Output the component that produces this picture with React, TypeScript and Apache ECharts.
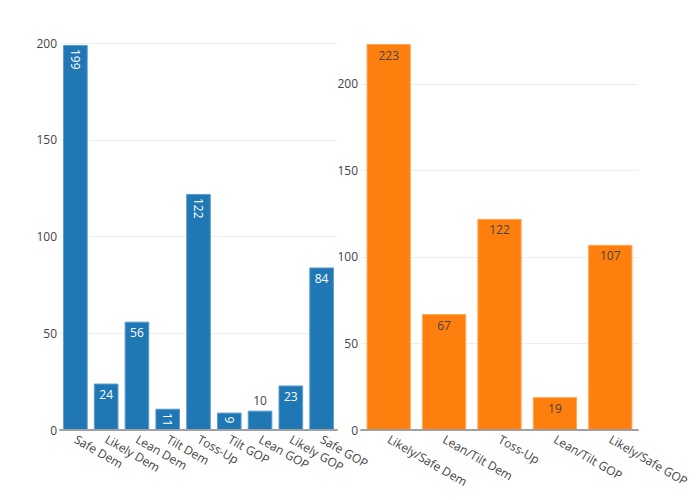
import React, { useEffect, useRef } from "react";
import * as echarts from "echarts";

const leftCategories = ["Safe Dem", "Likely Dem", "Lean Dem", "Tilt Dem", "Toss-Up", "Tilt GOP", "Lean GOP", "Likely GOP", "Safe GOP"];
const leftValues = [199, 24, 56, 11, 122, 9, 10, 23, 84];
const rightCategories = ["Likely/Safe Dem", "Lean/Tilt Dem", "Toss-Up", "Lean/Tilt GOP", "Likely/Safe GOP"];
const rightValues = [223, 67, 122, 19, 107];
const leftTicks = [0, 50, 100, 150, 200];
const rightTicks = [0, 50, 100, 150, 200];

// label placement per left bar (plotly auto: rotated when short/narrow, outside when tiny)
const leftLabelMode = ["rot", "in", "in", "rot", "rot", "rot", "out", "in", "in"];

const FONT = "Open Sans";
const TXT = "#444";

export default function App() {
  const ref = useRef<HTMLDivElement>(null);
  useEffect(() => {
    document.body.style.margin = "0";
    const chart = echarts.init(ref.current!, null, { renderer: "svg" });
    const leftData = leftValues.map((v, i) => {
      const mode = leftLabelMode[i];
      let label: any;
      if (mode === "rot") {
        label = { show: true, position: "insideTop", distance: 4, rotate: -90, align: "left", verticalAlign: "middle", color: "#fff" };
      } else if (mode === "out") {
        label = { show: true, position: "top", distance: 4, color: TXT };
      } else {
        label = { show: true, position: "insideTop", distance: 5, color: "#fff" };
      }
      return { value: v, label };
    });
    const yAxisCommon = (gi: number, max: number, ticks: number[]) => ({
      type: "value",
      gridIndex: gi,
      min: 0,
      max,
      interval: 50,
      axisLine: { show: false },
      axisTick: { show: false },
      splitLine: { show: false },
      axisLabel: {
        color: TXT,
        fontFamily: FONT,
        fontSize: 12,
        margin: 3,
        showMaxLabel: ticks.includes(max),
        formatter: (v: number) => (ticks.includes(v) ? String(v) : ""),
      },
    });
    const gridSeries = (gi: number, ticks: number[]) => ({
      type: "line",
      xAxisIndex: gi,
      yAxisIndex: gi,
      data: [],
      z: 0,
      silent: true,
      markLine: {
        z: 0,
        silent: true,
        symbol: ["none", "none"],
        label: { show: false },
        lineStyle: { color: "#eee", width: 1, type: "solid" },
        emphasis: { disabled: true },
        data: ticks.filter((t) => t > 0).map((t) => ({ yAxis: t })),
      },
    });
    const xAxisCommon = (gi: number, cats: string[]) => ({
      type: "category",
      gridIndex: gi,
      data: cats,
      axisLine: { show: true, lineStyle: { color: "#a0a0a0", width: 2 } },
      axisTick: { show: false },
      axisLabel: { color: TXT, fontFamily: FONT, fontSize: 12, rotate: -30, margin: 8, interval: 0 },
      z: 3,
    });
    chart.setOption({
      animation: false,
      backgroundColor: "#fff",
      textStyle: { fontFamily: FONT },
      grid: [
        { left: 60, top: 43, width: 277, height: 387 },
        { left: 361, top: 44, width: 277, height: 386 },
      ],
      xAxis: [xAxisCommon(0, leftCategories), xAxisCommon(1, rightCategories)],
      yAxis: [yAxisCommon(0, 200, leftTicks), yAxisCommon(1, 223, rightTicks)],
      series: [
        gridSeries(0, leftTicks),
        gridSeries(1, rightTicks),
        {
          type: "bar",
          xAxisIndex: 0,
          yAxisIndex: 0,
          data: leftData,
          barCategoryGap: "20%",
          z: 2,
          itemStyle: { color: "#1f77b4", borderColor: "#5b9bcf", borderWidth: 1 },
          label: { fontFamily: FONT, fontSize: 12 },
        },
        {
          type: "bar",
          xAxisIndex: 1,
          yAxisIndex: 1,
          data: rightValues,
          barCategoryGap: "20%",
          z: 2,
          itemStyle: { color: "#ff7f0e", borderColor: "#ffa95e", borderWidth: 1 },
          label: { show: true, position: "insideTop", distance: 5, color: TXT, fontFamily: FONT, fontSize: 12 },
        },
      ],
    });
    return () => chart.dispose();
  }, []);
  return <div ref={ref} style={{ width: 700, height: 500 }} />;
}
